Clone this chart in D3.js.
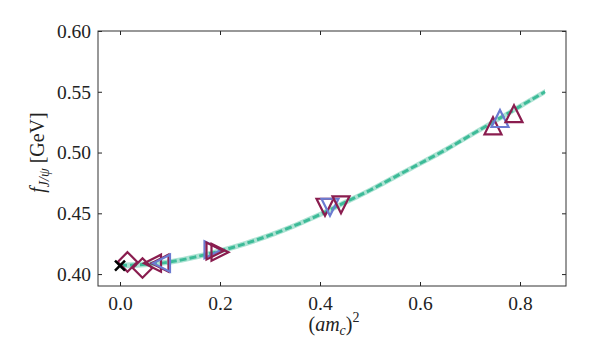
<!DOCTYPE html>
<html>
<head>
<meta charset="utf-8">
<script src="https://cdn.jsdelivr.net/npm/d3@7"></script>
<style>
  body { margin: 0; background: #fff; }
  text { font-family: "Liberation Serif", "DejaVu Serif", serif; fill: #222; }
</style>
</head>
<body>
<svg id="chart" width="592" height="340"></svg>
<script>
// continuum fit curve
const fitX = [0.0, 0.05, 0.1, 0.15, 0.2, 0.25, 0.3, 0.35, 0.4, 0.45, 0.5, 0.55, 0.6, 0.65, 0.7, 0.75, 0.8, 0.85];
const fitY = [0.407, 0.408, 0.410, 0.414, 0.419, 0.425, 0.432, 0.440, 0.449, 0.459, 0.469, 0.480, 0.491, 0.502, 0.514, 0.526, 0.538, 0.550];
const fitErr = 0.0023;

// lattice points: x, y, marker shape, colour group
const ptX =     [0.015, 0.045, 0.065, 0.08, 0.083, 0.186, 0.19, 0.2, 0.41, 0.42, 0.442, 0.746, 0.76, 0.788];
const ptY =     [0.410, 0.405, 0.409, 0.409, 0.409, 0.420, 0.419, 0.418, 0.455, 0.455, 0.457, 0.522, 0.528, 0.532];
const ptShape = ['D', 'D', '<', '<', '<', '>', '>', '>', 'v', 'v', 'v', '^', '^', '^'];
const ptGroup = ['m', 'm', 'm', 'm', 'b', 'b', 'm', 'm', 'm', 'b', 'm', 'm', 'b', 'm'];

const physX = 0.0, physY = 0.407;

const xTicks = [0.0, 0.2, 0.4, 0.6, 0.8];
const yTicks = [0.40, 0.45, 0.50, 0.55, 0.60];

const colors = { m: '#8a1d4f', b: '#6b7bd1' };

const margin = {top: 31, right: 26, bottom: 54, left: 98};
const width = 592, height = 340;
const iw = width - margin.left - margin.right;
const ih = height - margin.top - margin.bottom;

const svg = d3.select('#chart');
const g = svg.append('g').attr('transform', `translate(${margin.left},${margin.top})`);

const x = d3.scaleLinear().domain([-0.044, 0.892]).range([0, iw]);
const y = d3.scaleLinear().domain([0.3902, 0.60]).range([ih, 0]);

// axes with inward ticks on all four sides
const tk = 4;
g.append('g').attr('transform', `translate(0,${ih})`)
  .call(d3.axisBottom(x).tickValues(xTicks).tickSize(-tk).tickPadding(10).tickFormat(d3.format('.1f')))
  .call(a => a.select('.domain').remove());
g.append('g')
  .call(d3.axisTop(x).tickValues(xTicks).tickSize(-tk).tickFormat(''))
  .call(a => a.select('.domain').remove());
g.append('g')
  .call(d3.axisLeft(y).tickValues(yTicks).tickSize(-tk).tickPadding(7).tickFormat(d3.format('.2f')))
  .call(a => a.select('.domain').remove());
g.append('g').attr('transform', `translate(${iw},0)`)
  .call(d3.axisRight(y).tickValues(yTicks).tickSize(-tk).tickFormat(''))
  .call(a => a.select('.domain').remove());

g.selectAll('.tick line').attr('stroke', '#222').attr('stroke-width', 1);
g.selectAll('.tick text').style('font-size', '19.5px').attr('fill', '#222');

g.append('rect').attr('width', iw).attr('height', ih)
  .attr('fill', 'none').attr('stroke', '#333').attr('stroke-width', 1);

// clip for data
svg.append('clipPath').attr('id', 'clip').append('rect').attr('width', iw).attr('height', ih);
const plot = g.append('g').attr('clip-path', 'url(#clip)');

const fit = fitX.map((d, i) => ({x: d, y: fitY[i]}));

plot.append('path').datum(fit)
  .attr('fill', '#5cc8a8').attr('fill-opacity', 0.5)
  .attr('d', d3.area().curve(d3.curveMonotoneX)
    .x(d => x(d.x)).y0(d => y(d.y - fitErr)).y1(d => y(d.y + fitErr)));

plot.append('path').datum(fit)
  .attr('fill', 'none').attr('stroke', '#3dbb98').attr('stroke-width', 3)
  .attr('stroke-dasharray', '7,3')
  .attr('d', d3.line().curve(d3.curveMonotoneX).x(d => x(d.x)).y(d => y(d.y)));

// marker shapes (matplotlib style)
const r = 8.5;
function shapePath(s) {
  if (s === 'D') return `M0,${-r*1.15}L${r*1.15},0L0,${r*1.15}L${-r*1.15},0Z`;
  if (s === '^') return `M0,${-r}L${r},${r}L${-r},${r}Z`;
  if (s === 'v') return `M0,${r}L${r},${-r}L${-r},${-r}Z`;
  if (s === '<') return `M${-r},0L${r},${-r}L${r},${r}Z`;
  return `M${r},0L${-r},${-r}L${-r},${r}Z`;
}

const pts = ptX.map((d, i) => ({x: d, y: ptY[i], s: ptShape[i], c: ptGroup[i]}));
plot.selectAll('path.pt').data(pts).join('path')
  .attr('class', 'pt')
  .attr('transform', d => `translate(${x(d.x)},${y(d.y)})`)
  .attr('d', d => shapePath(d.s))
  .attr('fill', 'none')
  .attr('stroke', d => colors[d.c])
  .attr('stroke-width', 2.2)
  .attr('stroke-linejoin', 'miter');

// physical point
const cs = 5;
g.append('path')
  .attr('transform', `translate(${x(physX)},${y(physY)})`)
  .attr('d', `M${-cs},${-cs}L${cs},${cs}M${-cs},${cs}L${cs},${-cs}`)
  .attr('stroke', '#000').attr('stroke-width', 2.5);

// axis labels
const xl = svg.append('text')
  .attr('x', margin.left + iw / 2 + 2).attr('y', 331)
  .attr('text-anchor', 'middle').style('font-size', '20px');
xl.append('tspan').text('(');
xl.append('tspan').attr('font-style', 'italic').text('am');
xl.append('tspan').attr('font-style', 'italic').attr('font-size', '14px').attr('dy', 4).text('c');
xl.append('tspan').attr('dy', -4).text(')');
xl.append('tspan').attr('font-size', '14px').attr('dy', -9).text('2');

const yl = svg.append('text')
  .attr('transform', `translate(44,${margin.top + ih / 2 - 6}) rotate(-90)`)
  .attr('text-anchor', 'middle').style('font-size', '20px');
yl.append('tspan').attr('font-style', 'italic').text('f');
yl.append('tspan').attr('font-style', 'italic').attr('font-size', '14px').attr('dy', 5).text('J/ψ');
yl.append('tspan').attr('dy', -5).text(' [GeV]');
</script>
</body>
</html>
